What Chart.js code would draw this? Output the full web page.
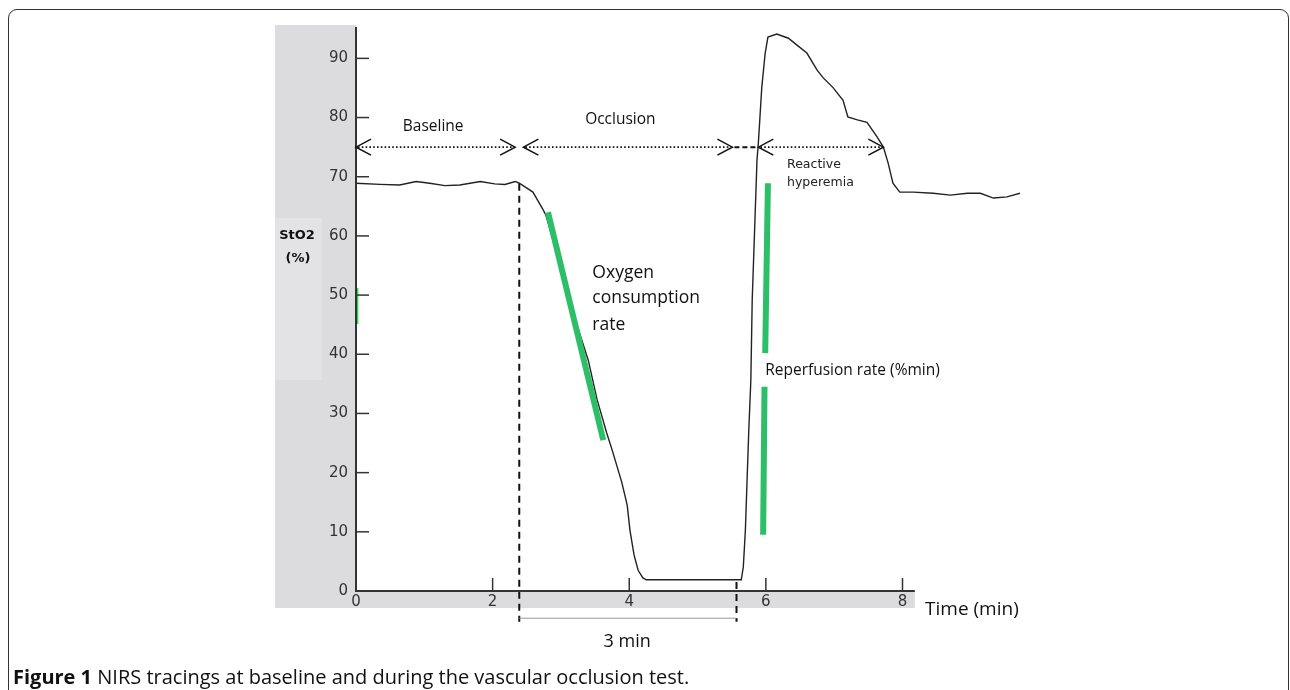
<!DOCTYPE html>
<html><head><meta charset="utf-8">
<script src="https://cdn.jsdelivr.net/npm/chart.js@4.4.0/dist/chart.umd.min.js"></script>
<style>
html,body{margin:0;padding:0;background:#fff;}
#wrap{position:relative;width:1290px;height:690px;overflow:hidden;background:#fff;}
#frame{position:absolute;left:8px;top:9px;width:1281px;height:740px;border:1.5px solid #333;border-radius:9px;box-sizing:border-box;}
#cv{position:absolute;left:0;top:0;}
#caption{position:absolute;left:13px;top:663px;font-family:"Open Sans",sans-serif;font-size:20px;color:#111;white-space:nowrap;}
#caption b{font-weight:700;}
</style></head>
<body><div id="wrap"><div id="frame"></div><canvas id="cv" width="1290" height="690"></canvas>
<div id="caption"><b>Figure 1</b> NIRS tracings at baseline and during the vascular occlusion test.</div></div>
<script>
// ---- data ----
const timeMin = [0,0.35,0.64,0.88,1.08,1.30,1.52,1.82,2.03,2.18,2.33,2.39,
  2.59,2.74,2.78,2.99,3.21,3.40,3.53,3.67,3.75,3.89,3.97,4.01,4.07,4.13,4.20,4.25,
  5.64,5.67,5.70,5.72,5.75,5.78,5.80,5.84,5.87,5.89,5.94,5.99,6.03,
  6.16,6.33,6.46,6.60,6.75,6.84,6.98,7.13,7.20,7.34,7.48,7.63,7.72,7.79,7.86,7.96,
  8.16,8.45,8.70,8.95,9.14,9.33,9.53,9.72];
const sto2 = [68.9,68.7,68.6,69.2,68.9,68.5,68.6,69.2,68.8,68.7,69.2,68.9,
  67.4,64.4,63.5,55.1,45.8,39.0,32.3,26.7,23.8,18.4,14.5,10.3,6.1,3.5,2.2,1.9,
  1.9,4.1,10.3,17.1,27.2,35.6,49.2,62.7,72.8,75.7,85.1,90.9,93.6,
  94.1,93.4,92.2,90.9,88.0,86.7,85.1,82.9,80.1,79.6,79.2,76.7,75.0,72.3,68.9,67.4,
  67.4,67.2,66.9,67.2,67.2,66.4,66.6,67.2];
const consumptionX = [2.81, 3.62];
const consumptionY = [64.0, 25.5];
const reperfUpperX = [6.03, 5.99];
const reperfUpperY = [68.9, 40.2];
const reperfLowerX = [5.98, 5.96];
const reperfLowerY = [34.5, 9.5];
const markX = [0.02, 0.02];
const markY = [51.2, 45.1];
const occlusionStart = 2.39, occlusionStartTop = 68.8;
const occlusionEnd = 5.57, occlusionEndTop = 1.5;
const dashBottom = -5.2;
const bracketLevel = -4.6;
const phaseStart = [0, 2.45, 5.89];
const phaseEnd = [2.33, 5.51, 7.72];
const phaseLabels = ["Baseline", "Occlusion"];
const phaseLabelX = [1.13, 3.87];
const phaseLabelY = [78.4, 79.7];
const arrowLevel = 75;
const yTicks = [0,10,20,30,40,50,60,70,80,90];
const xTicks = [0,2,4,6,8];
const xAxisEnd = 8.18;

const pts = (xs, ys) => xs.map((x, i) => ({x, y: ys[i]}));
const GREEN = '#2cbf68';

const deco = {
  id: 'deco',
  beforeDraw(chart) {
    const {ctx, chartArea: ca} = chart;
    const xs = chart.scales.x;
    ctx.save();
    ctx.fillStyle = '#dcdcdf';
    ctx.fillRect(275, 25, ca.left - 275, 583);
    ctx.fillRect(ca.left, ca.bottom, xs.getPixelForValue(xAxisEnd) - ca.left, 17);
    ctx.fillStyle = '#e3e3e5';
    ctx.fillRect(275, 218, 47, 162);
    ctx.restore();
  },
  afterDatasetsDraw(chart) {
    const {ctx, chartArea: ca} = chart;
    const xs = chart.scales.x, ys = chart.scales.y;
    const px = v => xs.getPixelForValue(v), py = v => ys.getPixelForValue(v);
    ctx.save();
    // axes
    ctx.strokeStyle = '#333'; ctx.lineWidth = 2;
    ctx.beginPath();
    ctx.moveTo(ca.left, ca.top); ctx.lineTo(ca.left, py(0));
    ctx.lineTo(px(xAxisEnd), py(0)); ctx.stroke();
    ctx.lineWidth = 1.5;
    yTicks.forEach(v => { if (v === 0) return; ctx.beginPath(); ctx.moveTo(px(0), py(v)); ctx.lineTo(px(0) + 13, py(v)); ctx.stroke(); });
    xTicks.forEach(v => { if (v === 0) return; ctx.beginPath(); ctx.moveTo(px(v), py(0)); ctx.lineTo(px(v), py(0) - 13); ctx.stroke(); });
    // bracket under 3 min
    ctx.strokeStyle = '#999'; ctx.lineWidth = 1;
    ctx.beginPath(); ctx.moveTo(px(occlusionStart), py(bracketLevel)); ctx.lineTo(px(occlusionEnd), py(bracketLevel)); ctx.stroke();
    // phase arrows
    const ay = py(arrowLevel);
    ctx.strokeStyle = '#111';
    for (let i = 0; i < phaseStart.length; i++) {
      const a = px(phaseStart[i]), b = px(phaseEnd[i]);
      ctx.lineWidth = 1.6; ctx.setLineDash([1.6, 2.2]);
      ctx.beginPath(); ctx.moveTo(a + 2, ay); ctx.lineTo(b - 2, ay); ctx.stroke();
      ctx.setLineDash([]); ctx.lineWidth = 1.5;
      ctx.beginPath(); ctx.moveTo(a + 15, ay - 8); ctx.lineTo(a, ay); ctx.lineTo(a + 15, ay + 8); ctx.stroke();
      ctx.beginPath(); ctx.moveTo(b - 15, ay - 8); ctx.lineTo(b, ay); ctx.lineTo(b - 15, ay + 8); ctx.stroke();
    }
    ctx.lineWidth = 2; ctx.setLineDash([5, 3]);
    ctx.beginPath(); ctx.moveTo(px(phaseEnd[1]) + 2, ay); ctx.lineTo(px(phaseStart[2]) - 1, ay); ctx.stroke();
    ctx.setLineDash([]);
    // texts
    ctx.fillStyle = '#111';
    ctx.textBaseline = 'middle';
    ctx.font = '15.5px "Open Sans"'; ctx.textAlign = 'center';
    phaseLabels.forEach((t, i) => ctx.fillText(t, px(phaseLabelX[i]), py(phaseLabelY[i])));
    ctx.font = '12.5px "DejaVu Sans"'; ctx.textAlign = 'left'; ctx.fillStyle = '#222';
    ctx.fillText('Reactive', px(6.31), py(72.1));
    ctx.fillText('hyperemia', px(6.31), py(68.9));
    ctx.fillStyle = '#111';
    ctx.font = '17.5px "Open Sans"';
    ctx.fillText('Oxygen', px(3.46), py(53.7));
    ctx.fillText('consumption', px(3.46), py(49.5));
    ctx.fillText('rate', px(3.46), py(44.9));
    ctx.font = '15.5px "Open Sans"';
    ctx.fillText('Reperfusion rate (%min)', px(5.99), py(37.3));
    ctx.font = '19px "Open Sans"';
    ctx.fillText('Time (min)', px(8.33), py(-3.2));
    ctx.font = '18px "Open Sans"'; ctx.textAlign = 'center';
    ctx.fillText('3 min', px(3.97), py(-8.6));
    ctx.font = 'bold 13px "DejaVu Sans"'; ctx.fillStyle = '#111';
    ctx.fillText('StO2', ca.left - 59, py(60.1));
    ctx.fillText('(%)', ca.left - 58, py(56.2));
    ctx.restore();
  }
};

new Chart(document.getElementById('cv'), {
  type: 'line',
  data: {
    datasets: [
      {data: pts(consumptionX, consumptionY), borderColor: GREEN, borderWidth: 6, order: 0, borderCapStyle: 'butt'},
      {data: pts(reperfUpperX, reperfUpperY), borderColor: GREEN, borderWidth: 6, order: 0},
      {data: pts(reperfLowerX, reperfLowerY), borderColor: GREEN, borderWidth: 6, order: 0},
      {data: pts(markX, markY), borderColor: '#22dd44', borderWidth: 2, order: 0},
      {data: pts(timeMin, sto2), borderColor: '#222', borderWidth: 1.4, order: 1},
      {data: pts([occlusionStart, occlusionStart], [occlusionStartTop, dashBottom]), borderColor: '#111', borderWidth: 2, borderDash: [7, 5], order: 2, clip: false},
      {data: pts([occlusionEnd, occlusionEnd], [occlusionEndTop, dashBottom]), borderColor: '#111', borderWidth: 2, borderDash: [7, 5], order: 2, clip: false}
    ]
  },
  options: {
    responsive: false, animation: false, devicePixelRatio: 1,
    layout: {padding: {left: 276, right: 270, top: 27, bottom: 69}},
    elements: {point: {radius: 0}, line: {tension: 0, fill: false}},
    plugins: {legend: {display: false}, tooltip: {enabled: false}},
    scales: {
      x: {type: 'linear', min: 0, max: 9.72,
        afterBuildTicks: s => { s.ticks = xTicks.map(v => ({value: v})); },
        afterFit: s => { s.height = 30; },
        grid: {display: false, drawTicks: false}, border: {display: false},
        ticks: {autoSkip: false, maxRotation: 0, padding: 2, color: '#333', font: {family: 'DejaVu Sans', size: 15}}
      },
      y: {type: 'linear', min: 0, max: 95.3,
        afterBuildTicks: s => { s.ticks = yTicks.map(v => ({value: v})); },
        afterFit: s => { s.width = 80; },
        grid: {display: false, drawTicks: false}, border: {display: false},
        ticks: {padding: 8, color: '#333', font: {family: 'DejaVu Sans', size: 15}}
      }
    }
  },
  plugins: [deco]
});
</script></body></html>
